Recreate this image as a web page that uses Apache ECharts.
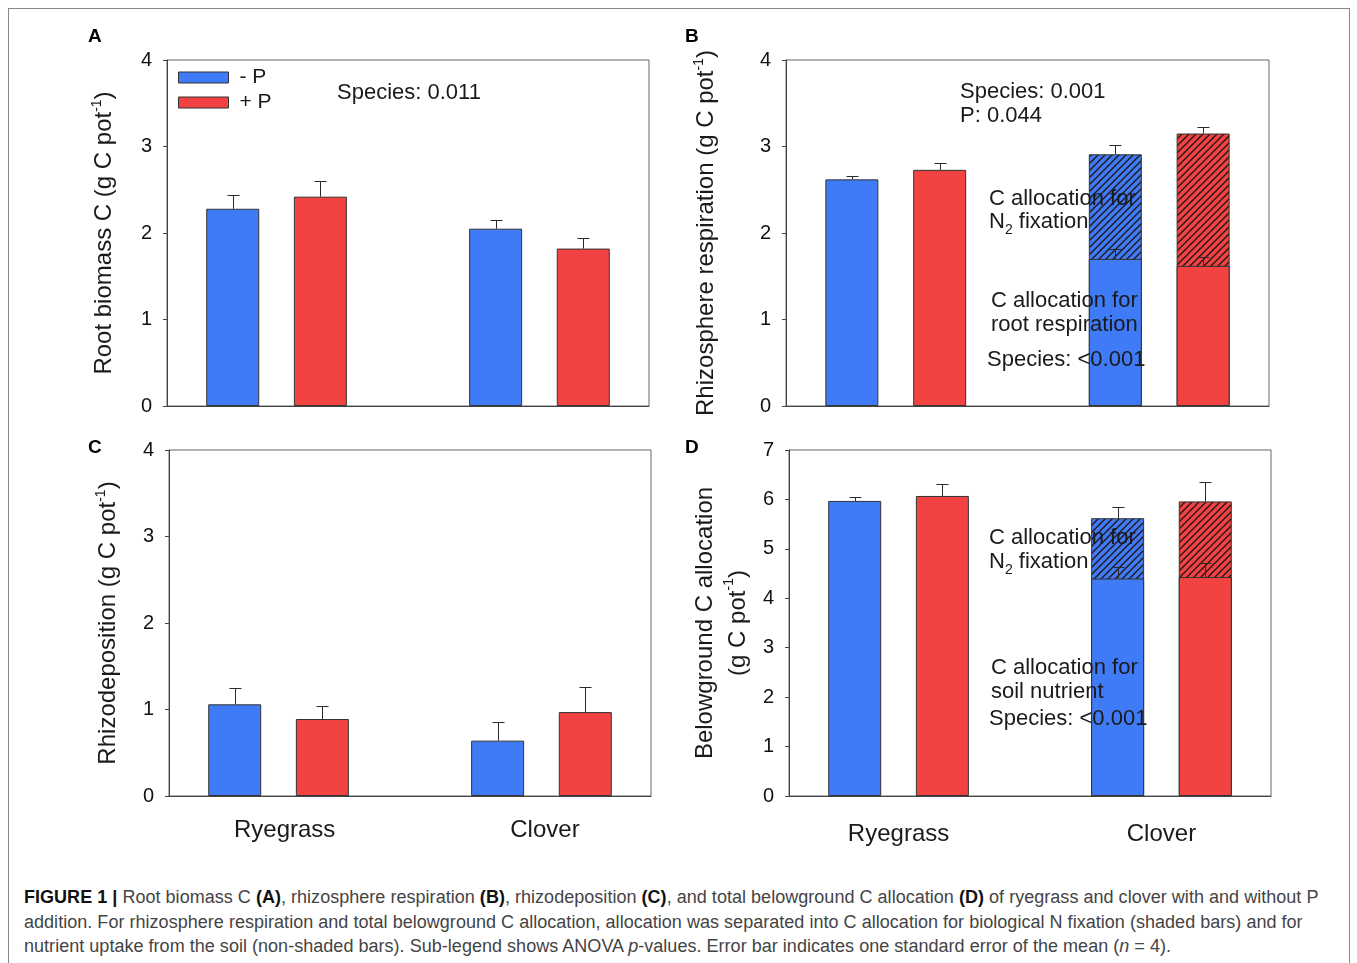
<!DOCTYPE html>
<html>
<head>
<meta charset="utf-8">
<title>Figure 1</title>
<script src="https://cdn.jsdelivr.net/npm/echarts@6/dist/echarts.min.js"></script>
<style>
  html, body { margin: 0; padding: 0; background: #fff; overflow: hidden; }
  #frame { position: absolute; left: 8px; top: 8px; width: 1342px; height: 1000px; border: 1px solid #888; box-sizing: border-box; }
  #chart { position: absolute; left: 0; top: 0; width: 1357px; height: 870px; }
  #caption {
    position: absolute; left: 24px; top: 885px;
    font-family: "Liberation Sans", Arial, sans-serif; font-size: 18px; line-height: 24.5px;
    letter-spacing: 0.03px; color: #444; white-space: nowrap;
  }
  #caption b { color: #111; }
</style>
</head>
<body>
<div id="frame"></div>
<div id="chart"></div>
<div id="caption"><b>FIGURE 1 |</b> Root biomass C <b>(A)</b>, rhizosphere respiration <b>(B)</b>, rhizodeposition <b>(C)</b>, and total belowground C allocation <b>(D)</b> of ryegrass and clover with and without P<br>addition. For rhizosphere respiration and total belowground C allocation, allocation was separated into C allocation for biological N fixation (shaded bars) and for<br>nutrient uptake from the soil (non-shaded bars). Sub-legend shows ANOVA <i>p</i>-values. Error bar indicates one standard error of the mean (<i>n</i> = 4).</div>
<script>
// order of every array: Ryegrass -P, Ryegrass +P, Clover -P, Clover +P
const species = ['Ryegrass', 'Clover'];
const treatments = ['- P', '+ P'];
const barSlots = [0, 1, 3, 4];

const rootBiomass = [2.28, 2.42, 2.05, 1.82];
const rootBiomassSE = [0.16, 0.18, 0.10, 0.12];

const rhizoResp = [2.62, 2.73, 2.91, 3.15];
const rhizoRespSE = [0.04, 0.08, 0.11, 0.08];
const rootResp = [null, null, 1.70, 1.62];
const rootRespSE = [null, null, 0.11, 0.10];

const rhizodep = [1.06, 0.89, 0.64, 0.97];
const rhizodepSE = [0.19, 0.15, 0.22, 0.29];

const belowC = [5.97, 6.07, 5.62, 5.96];
const belowCSE = [0.08, 0.25, 0.23, 0.40];
const soilC = [null, null, 4.40, 4.43];
const soilCSE = [null, null, 0.23, 0.29];

const FONT = '"Liberation Sans", Arial, Helvetica, sans-serif';
const BLUE = '#3F7BF6';
const RED = '#F34242';
const colors = [BLUE, RED];

function hatch(color) {
  const s = 7;
  const c = document.createElement('canvas');
  c.width = s;
  c.height = s;
  const ctx = c.getContext('2d');
  ctx.fillStyle = color;
  ctx.fillRect(0, 0, s, s);
  ctx.strokeStyle = '#221616';
  ctx.lineWidth = 1.4;
  ctx.beginPath();
  ctx.moveTo(0, s); ctx.lineTo(s, 0);
  ctx.moveTo(-1, 1); ctx.lineTo(1, -1);
  ctx.moveTo(s - 1, s + 1); ctx.lineTo(s + 1, s - 1);
  ctx.stroke();
  return { image: c, repeat: 'repeat' };
}
const hatches = [hatch(BLUE), hatch(RED)];

const panels = [
  { vals: rootBiomass, se: rootBiomassSE, max: 4, gap: 49,
    name: 'Root biomass C (g C pot{sup|-1})',
    grid: { left: 167, top: 60, width: 482, height: 346 } },
  { vals: rhizoResp, se: rhizoRespSE, base: rootResp, baseSE: rootRespSE, max: 4, gap: 66,
    name: 'Rhizosphere respiration (g C pot{sup|-1})',
    grid: { left: 786, top: 60, width: 483, height: 346 } },
  { vals: rhizodep, se: rhizodepSE, max: 4, gap: 47,
    name: 'Rhizodeposition (g C pot{sup|-1})', labels: [0.57, 3.54], labelMargin: 22,
    grid: { left: 169, top: 450, width: 482, height: 346 } },
  { vals: belowC, se: belowCSE, base: soilC, baseSE: soilCSE, max: 7, gap: 34, lineHeight: 33,
    name: 'Belowground C allocation\n(g C pot{sup|-1})', labels: [0.5, 3.5], labelMargin: 26,
    grid: { left: 789, top: 450, width: 482, height: 346 } }
];

function renderErr(params, api) {
  const x = api.value(0);
  const p0 = api.coord([x, api.value(1)]);
  const p1 = api.coord([x, api.value(2)]);
  const cx = Math.round(p0[0]) + 0.5;
  const ty = Math.round(p1[1]) + 0.5;
  const st = { stroke: '#2a2a2a', lineWidth: 1 };
  return {
    type: 'group',
    children: [
      { type: 'line', shape: { x1: cx, y1: p0[1], x2: cx, y2: ty }, style: st },
      { type: 'line', shape: { x1: cx - 6, y1: ty, x2: cx + 6, y2: ty }, style: st }
    ]
  };
}

const grid = [], xAxis = [], yAxis = [], series = [];

panels.forEach((p, g) => {
  grid.push(Object.assign({ show: true, borderColor: '#666', borderWidth: 1, backgroundColor: 'transparent' }, p.grid));

  xAxis.push({
    type: 'value', gridIndex: g, min: -0.75, max: 4.75,
    splitLine: { show: false },
    axisTick: { show: false },
    axisLine: { show: true, onZero: false, lineStyle: { color: '#444' } },
    axisLabel: p.labels ? {
      show: true, customValues: p.labels, margin: p.labelMargin,
      fontSize: 24, color: '#1a1a1a', fontFamily: FONT,
      formatter: v => species[p.labels.indexOf(v)] || ''
    } : { show: false }
  });

  yAxis.push({
    type: 'value', gridIndex: g, min: 0, max: p.max, interval: 1,
    splitLine: { show: false },
    axisLine: { show: true, onZero: false, lineStyle: { color: '#444' } },
    axisTick: { show: true, length: 4, lineStyle: { color: '#444' } },
    axisLabel: { fontSize: 20, color: '#111', fontFamily: FONT, margin: 15 },
    name: p.name, nameLocation: 'middle', nameRotate: 90, nameGap: p.gap,
    nameTextStyle: {
      fontSize: 24, color: '#1a1a1a', fontFamily: FONT, lineHeight: p.lineHeight || 28,
      rich: { sup: { fontSize: 14, color: '#1a1a1a', fontFamily: FONT, verticalAlign: 'top', lineHeight: 14 } }
    }
  });

  // totals (hatched where split into a base part)
  treatments.forEach((t, ti) => {
    series.push({
      name: t, type: 'bar', xAxisIndex: g, yAxisIndex: g,
      barWidth: 53, barGap: '-100%',
      itemStyle: { color: colors[ti], borderColor: '#333', borderWidth: 1 },
      data: species.map((s, si) => {
        const i = si * 2 + ti;
        const item = { value: [barSlots[i], p.vals[i]] };
        if (p.base && p.base[i] != null) item.itemStyle = { color: hatches[ti] };
        return item;
      })
    });
  });

  // solid base part of the split bars
  if (p.base) {
    treatments.forEach((t, ti) => {
      series.push({
        name: t, type: 'bar', xAxisIndex: g, yAxisIndex: g,
        barWidth: 53, barGap: '-100%',
        itemStyle: { color: colors[ti], borderColor: '#333', borderWidth: 1 },
        data: p.base.map((v, i) => (v != null && i % 2 === ti) ? [barSlots[i], v] : null).filter(d => d)
      });
    });
  }

  const errData = p.vals.map((v, i) => [barSlots[i], v, v + p.se[i]]);
  if (p.base) {
    p.base.forEach((v, i) => { if (v != null) errData.push([barSlots[i], v, v + p.baseSE[i]]); });
  }
  series.push({
    type: 'custom', xAxisIndex: g, yAxisIndex: g, z: 5,
    renderItem: renderErr, encode: { x: 0, y: [1, 2] }, data: errData, silent: true
  });
});

const notes = [
  { text: 'Species: 0.011', x: 337, y: 93 },
  { text: 'Species: 0.001', x: 960, y: 92 },
  { text: 'P: 0.044', x: 960, y: 116 },
  { text: 'C allocation for', x: 989, y: 199 },
  { text: 'N{sub|2} fixation', x: 989, y: 222 },
  { text: 'C allocation for', x: 991, y: 301 },
  { text: 'root respiration', x: 991, y: 325 },
  { text: 'Species: <0.001', x: 987, y: 360 },
  { text: 'C allocation for', x: 989, y: 538 },
  { text: 'N{sub|2} fixation', x: 989, y: 562 },
  { text: 'C allocation for', x: 991, y: 668 },
  { text: 'soil nutrient', x: 991, y: 692 },
  { text: 'Species: <0.001', x: 989, y: 719 }
];
const letters = [
  { text: 'A', x: 88, y: 37 }, { text: 'B', x: 685, y: 37 },
  { text: 'C', x: 88, y: 448 }, { text: 'D', x: 685, y: 448 }
];

const graphic = notes.map(n => ({
  type: 'text', x: n.x, y: n.y, z: 100, silent: true,
  style: {
    text: n.text, fill: '#1a1a1a', fontSize: 22, fontFamily: FONT,
    verticalAlign: 'middle', align: 'left', lineHeight: 30,
    rich: { sub: { fontSize: 14, fontFamily: FONT, fill: '#1a1a1a', verticalAlign: 'bottom', lineHeight: 14 } }
  }
})).concat(letters.map(l => ({
  type: 'text', x: l.x, y: l.y, z: 100, silent: true,
  style: { text: l.text, fill: '#000', fontSize: 19, fontWeight: 'bold', fontFamily: FONT, verticalAlign: 'middle' }
})));

const chart = echarts.init(document.getElementById('chart'), null, { renderer: 'canvas' });
chart.setOption({
  animation: false,
  textStyle: { fontFamily: FONT },
  legend: {
    data: treatments, orient: 'vertical', left: 178, top: 67, padding: 0,
    itemWidth: 50, itemHeight: 11, itemGap: 4, icon: 'rect', selectedMode: false,
    itemStyle: { borderColor: '#333', borderWidth: 1 },
    textStyle: { fontSize: 21, color: '#1a1a1a', fontFamily: FONT, lineHeight: 21, padding: [0, 0, 0, 6] }
  },
  grid, xAxis, yAxis, series, graphic
});
</script>
</body>
</html>
